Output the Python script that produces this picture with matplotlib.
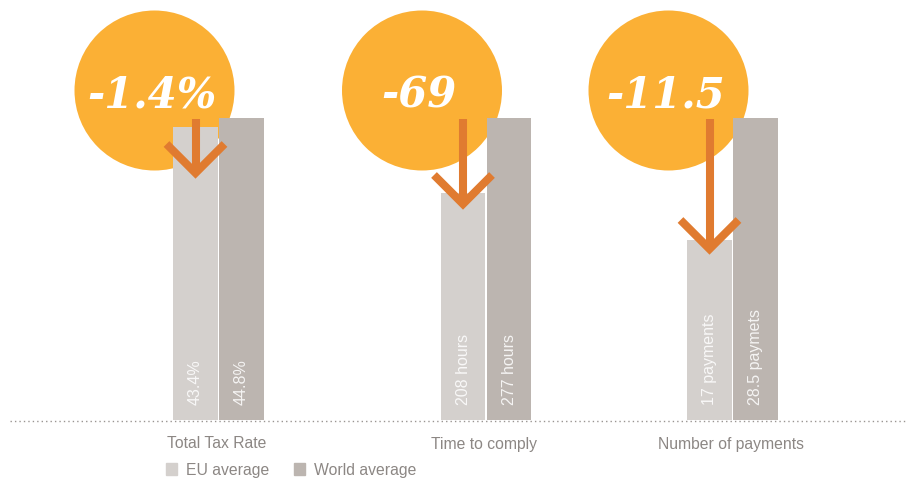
import matplotlib.pyplot as plt
from matplotlib.patches import Circle, Rectangle

# data #########################################################################
categories = ["Total Tax Rate", "Time to comply", "Number of payments"]
eu_values = [43.4, 208, 17]
world_values = [44.8, 277, 28.5]
eu_labels = ["43.4%", "208 hours", "17 payments"]
world_labels = ["44.8%", "277 hours", "28.5 paymets"]
changes = ["-1.4%", "-69", "-11.5"]
series = ["EU average", "World average"]

# style ########################################################################
eu_color = "#d4d0cd"
world_color = "#bcb5b0"
circle_color = "#fbb035"
arrow_color = "#e07b30"
text_color = "#8c8784"

group_x = [218.5, 486, 732.5]      # pixel centres of each pair
bar_w = 44.5
full_h = 302                        # world bar height in px
arrow_len = [59, 90, 135]

# init #########################################################################
fig = plt.figure(figsize=(9.13, 4.8), dpi=100)
ax = fig.add_axes([0, 0, 1, 1])
ax.set_xlim(0, 913)
ax.set_ylim(-60, 420)
ax.set_axis_off()

plt.rcParams['font.family'] = ['Liberation Sans', 'DejaVu Sans']

# circles (behind bars)
for i, gx in enumerate(group_x):
    cx = gx - 23 - 41
    ax.add_patch(Circle((cx, 329.5), 80, color=circle_color, zorder=1, lw=0))
    ax.text(cx - 3, 312, changes[i], color="white", fontsize=30,
            family="DejaVu Serif", fontweight="bold", style="italic",
            ha="center", va="baseline", zorder=5)

# bars
eu_h = [e / w * full_h for e, w in zip(eu_values, world_values)]
world_h = [full_h for _ in world_values]
eu_x = [gx - 23 for gx in group_x]
world_x = [gx + 23 for gx in group_x]
ax.bar(eu_x, eu_h, width=bar_w, color=eu_color, zorder=2, label=series[0])
ax.bar(world_x, world_h, width=bar_w, color=world_color, zorder=2, label=series[1])

for x, lab in zip(eu_x + world_x, eu_labels + world_labels):
    ax.text(x, 15, lab, rotation=90, color="white", alpha=0.85, fontsize=11.5,
            ha="center", va="bottom", zorder=3)

# arrows
for i, x in enumerate(eu_x):
    top = full_h - 1
    tip = top - arrow_len[i] + 5
    ax.plot([x, x], [top, tip + 4], color=arrow_color, lw=5.8,
            solid_capstyle="butt", zorder=4)
    ax.plot([x - 29, x, x + 29], [tip + 29, tip, tip + 29], color=arrow_color,
            lw=5.8, solid_capstyle="butt", solid_joinstyle="miter", zorder=4)

# baseline
ax.plot([10, 905], [-1, -1], color="#9a9592", lw=1, linestyle=(0, (1, 2.2)), zorder=1)

# category labels
for gx, cat in zip(group_x, categories):
    ax.text(gx - 2, -24, cat, color=text_color, fontsize=11.3,
            ha="center", va="center")

# legend
handles = [Rectangle((0, 0), 1, 1, color=eu_color),
           Rectangle((0, 0), 1, 1, color=world_color)]
leg = ax.legend(handles, series, loc="center left", ncol=2, frameon=False,
                bbox_to_anchor=(166 / 913, 1 - 470 / 480), fontsize=11.3,
                handlelength=0.7, handleheight=0.75, handletextpad=0.55,
                columnspacing=1.6, borderaxespad=0, borderpad=0)
for t in leg.get_texts():
    t.set_color(text_color)

fig.savefig("out.png", dpi=100)
